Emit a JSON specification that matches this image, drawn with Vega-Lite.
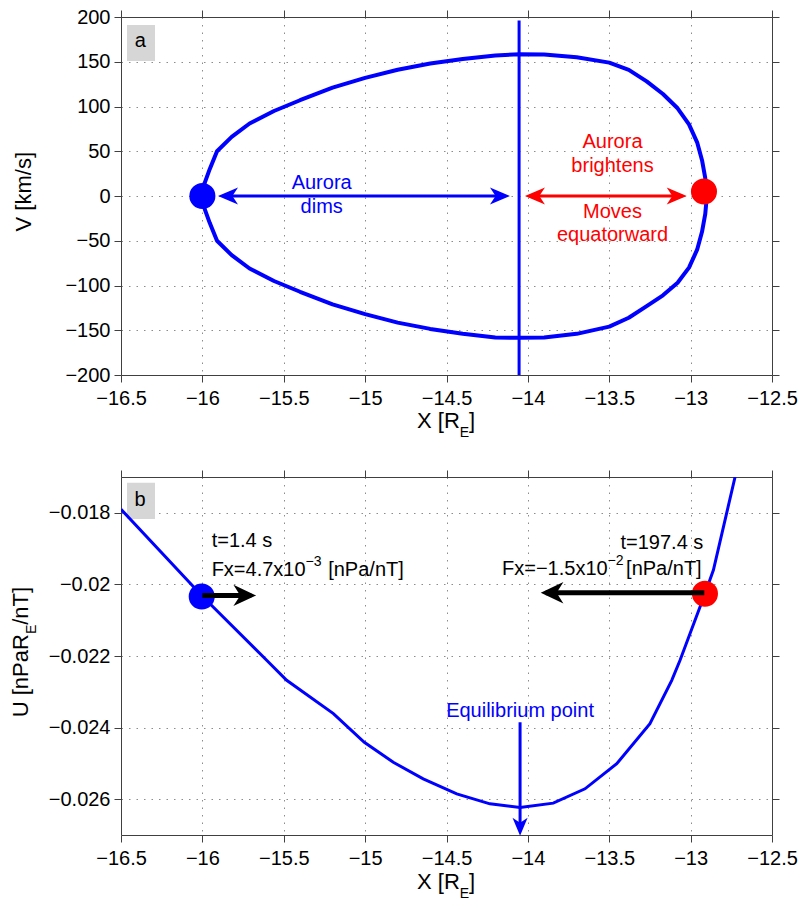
{
  "$schema": "https://vega.github.io/schema/vega-lite/v6.json",
  "padding": {"left": 10, "top": 7, "right": 5, "bottom": 5},
  "config": {
    "font": "Liberation Sans",
    "view": {"stroke": null},
    "axis": {
      "domainColor": "#404040", "tickColor": "#404040", "tickSize": 7, "tickWidth": 1, "domainWidth": 1,
      "labelFontSize": 20, "labelColor": "#000000", "labelFont": "Liberation Sans",
      "labelFlush": false, "labelOverlap": false,
      "gridColor": "#8c8c8c", "gridDash": [1.5, 6], "gridWidth": 1
    },
    "axisX": {"labelPadding": 6},
    "axisY": {"labelPadding": 4}
  },
  "spacing": 28,
  "datasets": {
    "loopA": [
      {"i": 1, "x": -16.0, "y": 0}, {"i": 2, "x": -15.985, "y": 15}, {"i": 3, "x": -15.955, "y": 30},
      {"i": 4, "x": -15.91, "y": 50}, {"i": 5, "x": -15.82, "y": 66}, {"i": 6, "x": -15.71, "y": 81},
      {"i": 7, "x": -15.56, "y": 95}, {"i": 8, "x": -15.4, "y": 107}, {"i": 9, "x": -15.2, "y": 121},
      {"i": 10, "x": -15.0, "y": 132}, {"i": 11, "x": -14.8, "y": 141}, {"i": 12, "x": -14.6, "y": 148},
      {"i": 13, "x": -14.4, "y": 153}, {"i": 14, "x": -14.2, "y": 157}, {"i": 15, "x": -14.05, "y": 158.5},
      {"i": 16, "x": -13.9, "y": 158}, {"i": 17, "x": -13.7, "y": 155}, {"i": 18, "x": -13.5, "y": 149},
      {"i": 19, "x": -13.38, "y": 141}, {"i": 20, "x": -13.27, "y": 128}, {"i": 21, "x": -13.17, "y": 114},
      {"i": 22, "x": -13.08, "y": 98}, {"i": 23, "x": -13.01, "y": 80}, {"i": 24, "x": -12.96, "y": 60},
      {"i": 25, "x": -12.93, "y": 40}, {"i": 26, "x": -12.91, "y": 20}, {"i": 27, "x": -12.9, "y": 0},
      {"i": 28, "x": -12.91, "y": -20}, {"i": 29, "x": -12.93, "y": -40}, {"i": 30, "x": -12.96, "y": -60},
      {"i": 31, "x": -13.01, "y": -80}, {"i": 32, "x": -13.08, "y": -97}, {"i": 33, "x": -13.17, "y": -111},
      {"i": 34, "x": -13.27, "y": -123}, {"i": 35, "x": -13.38, "y": -136}, {"i": 36, "x": -13.5, "y": -146},
      {"i": 37, "x": -13.7, "y": -154}, {"i": 38, "x": -13.9, "y": -158}, {"i": 39, "x": -14.05, "y": -158.5},
      {"i": 40, "x": -14.2, "y": -158}, {"i": 41, "x": -14.4, "y": -154}, {"i": 42, "x": -14.6, "y": -148.5},
      {"i": 43, "x": -14.8, "y": -141.5}, {"i": 44, "x": -15.0, "y": -132}, {"i": 45, "x": -15.2, "y": -121},
      {"i": 46, "x": -15.4, "y": -107}, {"i": 47, "x": -15.56, "y": -95}, {"i": 48, "x": -15.71, "y": -81},
      {"i": 49, "x": -15.82, "y": -66}, {"i": 50, "x": -15.91, "y": -50}, {"i": 51, "x": -15.955, "y": -30},
      {"i": 52, "x": -15.985, "y": -15}, {"i": 53, "x": -16.0, "y": 0}
    ],
    "vlineA": [{"x": -14.054, "y": -200, "y2": 196}],
    "boxA": [{"x": -16.463, "x2": -16.291, "y": 191, "y2": 150.8}],
    "letterA": [{"x": -16.381, "y": 166.8, "t": "a"}],
    "dotsA": [{"x": -16.0, "y": 0, "c": "blue"}, {"x": -12.918, "y": 5, "c": "red"}],
    "shaftsA": [{"x": -15.87, "x2": -14.14, "y": 0, "c": "blue"}, {"x": -13.99, "x2": -13.05, "y": 0, "c": "red"}],
    "headsA": [
      {"x": -15.904, "y": 0, "c": "blue", "dir": "left"}, {"x": -14.11, "y": 0, "c": "blue", "dir": "right"},
      {"x": -14.018, "y": 0, "c": "red", "dir": "left"}, {"x": -13.024, "y": 0, "c": "red", "dir": "right"}
    ],
    "txtA": [
      {"x": -15.267, "y": 7.5, "t": "Aurora", "c": "blue"}, {"x": -15.267, "y": -18.7, "t": "dims", "c": "blue"},
      {"x": -13.48, "y": 53.3, "t": "Aurora", "c": "red"}, {"x": -13.48, "y": 27.2, "t": "brightens", "c": "red"},
      {"x": -13.48, "y": -24.9, "t": "Moves", "c": "red"}, {"x": -13.48, "y": -49.9, "t": "equatorward", "c": "red"}
    ],
    "xtitleMainA": [{"x": -14.418, "y": -259.6, "t": "X [R"}],
    "xtitleSubA": [{"x": -14.418, "y": -259.6, "t": "E"}],
    "xtitleEndA": [{"x": -14.361, "y": -259.6, "t": "]"}],
    "ytitleA": [{"x": -17.05, "y": 4.8, "t": "V [km/s]"}],
    "curveB": [
      {"x": -16.5, "y": -0.0179}, {"x": -16.0, "y": -0.02033}, {"x": -15.605, "y": -0.02212},
      {"x": -15.482, "y": -0.02268}, {"x": -15.195, "y": -0.02361}, {"x": -15.005, "y": -0.02441},
      {"x": -14.827, "y": -0.02497}, {"x": -14.643, "y": -0.02543}, {"x": -14.437, "y": -0.02585},
      {"x": -14.233, "y": -0.02613}, {"x": -14.048, "y": -0.02623}, {"x": -13.844, "y": -0.02611},
      {"x": -13.649, "y": -0.02571}, {"x": -13.454, "y": -0.02501}, {"x": -13.25, "y": -0.02389},
      {"x": -13.116, "y": -0.02268}, {"x": -13.065, "y": -0.02212}, {"x": -12.912, "y": -0.02026},
      {"x": -12.86, "y": -0.0196}, {"x": -12.727, "y": -0.017}
    ],
    "boxB": [{"x": -16.463, "x2": -16.291, "y": -0.01716, "y2": -0.018175}],
    "letterB": [{"x": -16.383, "y": -0.017811, "t": "b"}],
    "dotsB": [{"x": -16.004, "y": -0.020336, "c": "blue"}, {"x": -12.912, "y": -0.020261, "c": "red"}],
    "shaftsB": [{"x": -16.0, "x2": -15.7, "y": -0.020308}, {"x": -13.89, "x2": -12.916, "y": -0.020233}],
    "headsB": [{"x": -15.67, "y": -0.020308, "dir": "right"}, {"x": -13.921, "y": -0.020233, "dir": "left"}],
    "eqShaftB": [{"x": -14.048, "y": -0.023851, "y2": -0.0268}],
    "eqHeadB": [{"x": -14.048, "y": -0.02702}],
    "eqTextB": [{"x": -14.048, "y": -0.023711, "t": "Equilibrium point"}],
    "txtLeftB": [
      {"x": -15.943, "y": -0.018957, "t": "t=1.4 s"}, {"x": -15.943, "y": -0.019777, "t": "Fx=4.7x10"},
      {"x": -15.227, "y": -0.019777, "t": "[nPa/nT]"}
    ],
    "txtRightB": [
      {"x": -12.922, "y": -0.019002, "t": "t=197.4 s"}, {"x": -13.51, "y": -0.019749, "t": "Fx=−1.5x10"},
      {"x": -12.932, "y": -0.019749, "t": "[nPa/nT]"}
    ],
    "supB": [{"x": -15.366, "y": -0.019777, "t": "−3"}, {"x": -13.51, "y": -0.019749, "t": "−2"}],
    "xtitleMainB": [{"x": -14.418, "y": -0.02851, "t": "X [R"}],
    "xtitleSubB": [{"x": -14.418, "y": -0.02851, "t": "E"}],
    "xtitleEndB": [{"x": -14.361, "y": -0.02851, "t": "]"}],
    "ytitleMainB": [{"x": -17.0696, "y": -0.023711, "t": "U [nPaR"}],
    "ytitleSubB": [{"x": -17.0696, "y": -0.021388, "t": "E"}],
    "ytitleEndB": [{"x": -17.0696, "y": -0.021128, "t": "/nT]"}]
  },
  "vconcat": [
    {
      "width": 651,
      "height": 358,
      "layer": [
        {
          "encoding": {
            "x": {"field": "x", "type": "quantitative",
              "scale": {"domain": [-16.5, -12.5], "nice": false, "zero": false},
              "axis": {"orient": "bottom", "title": null, "grid": true, "format": ".1~f",
                "values": [-16.5, -16, -15.5, -15, -14.5, -14, -13.5, -13, -12.5]}},
            "y": {"field": "y", "type": "quantitative",
              "scale": {"domain": [-200, 200], "nice": false, "zero": false},
              "axis": {"orient": "left", "title": null, "grid": true, "format": "d",
                "values": [-200, -150, -100, -50, 0, 50, 100, 150, 200]}}
          },
          "layer": [
            {"data": {"name": "boxA"}, "mark": {"type": "rect", "color": "#d6d6d6"},
              "encoding": {"x2": {"field": "x2"}, "y2": {"field": "y2"}}},
            {"data": {"name": "letterA"}, "mark": {"type": "text", "fontSize": 20, "align": "center", "baseline": "alphabetic", "color": "#000000"},
              "encoding": {"text": {"field": "t"}}},
            {"data": {"name": "loopA"}, "mark": {"type": "line", "color": "#0000ff", "strokeWidth": 4, "strokeJoin": "round"},
              "encoding": {"order": {"field": "i", "type": "quantitative"}}},
            {"data": {"name": "vlineA"}, "mark": {"type": "rule", "color": "#0000ff", "strokeWidth": 3},
              "encoding": {"y2": {"field": "y2"}}},
            {"data": {"name": "shaftsA"}, "mark": {"type": "rule", "strokeWidth": 3},
              "encoding": {"x2": {"field": "x2"},
                "color": {"field": "c", "type": "nominal", "scale": {"domain": ["blue", "red"], "range": ["#0000ff", "#ff0000"]}, "legend": null}}},
            {"data": {"name": "headsA"}, "transform": [{"filter": "datum.dir == 'left'"}],
              "mark": {"type": "point", "shape": "M0,0L-1,-0.42L-0.72,0L-1,0.42Z", "filled": true, "size": 1600, "opacity": 1, "strokeWidth": 0, "angle": 180},
              "encoding": {"color": {"field": "c", "type": "nominal", "scale": {"domain": ["blue", "red"], "range": ["#0000ff", "#ff0000"]}, "legend": null}}},
            {"data": {"name": "headsA"}, "transform": [{"filter": "datum.dir == 'right'"}],
              "mark": {"type": "point", "shape": "M0,0L-1,-0.42L-0.72,0L-1,0.42Z", "filled": true, "size": 1600, "opacity": 1, "strokeWidth": 0, "angle": 0},
              "encoding": {"color": {"field": "c", "type": "nominal", "scale": {"domain": ["blue", "red"], "range": ["#0000ff", "#ff0000"]}, "legend": null}}},
            {"data": {"name": "dotsA"}, "mark": {"type": "circle", "size": 680, "opacity": 1},
              "encoding": {"color": {"field": "c", "type": "nominal", "scale": {"domain": ["blue", "red"], "range": ["#0000ff", "#ff0000"]}, "legend": null}}},
            {"data": {"name": "txtA"}, "mark": {"type": "text", "fontSize": 20, "align": "center", "baseline": "alphabetic"},
              "encoding": {"text": {"field": "t"},
                "color": {"field": "c", "type": "nominal", "scale": {"domain": ["blue", "red"], "range": ["#0000ff", "#ff0000"]}, "legend": null}}},
            {"data": {"name": "xtitleMainA"}, "mark": {"type": "text", "fontSize": 22, "align": "right", "baseline": "alphabetic", "color": "#000000"},
              "encoding": {"text": {"field": "t"}}},
            {"data": {"name": "xtitleSubA"}, "mark": {"type": "text", "fontSize": 14, "align": "left", "baseline": "alphabetic", "dy": 9, "color": "#000000"},
              "encoding": {"text": {"field": "t"}}},
            {"data": {"name": "xtitleEndA"}, "mark": {"type": "text", "fontSize": 22, "align": "left", "baseline": "alphabetic", "color": "#000000"},
              "encoding": {"text": {"field": "t"}}},
            {"data": {"name": "ytitleA"}, "mark": {"type": "text", "fontSize": 22, "align": "center", "baseline": "alphabetic", "angle": 270, "color": "#000000"},
              "encoding": {"text": {"field": "t"}}}
          ]
        },
        {
          "data": {"name": "dotsA"},
          "mark": {"type": "point", "opacity": 0},
          "encoding": {
            "x": {"field": "x", "type": "quantitative",
              "scale": {"domain": [-16.5, -12.5], "nice": false, "zero": false},
              "axis": {"orient": "top", "title": null, "grid": false, "labels": false,
                "values": [-16.5, -16, -15.5, -15, -14.5, -14, -13.5, -13, -12.5]}},
            "y": {"field": "y", "type": "quantitative",
              "scale": {"domain": [-200, 200], "nice": false, "zero": false},
              "axis": {"orient": "right", "title": null, "grid": false, "labels": false,
                "values": [-200, -150, -100, -50, 0, 50, 100, 150, 200]}}
          }
        }
      ],
      "resolve": {"axis": {"x": "independent", "y": "independent"}}
    },
    {
      "width": 651,
      "height": 358,
      "layer": [
        {
          "encoding": {
            "x": {"field": "x", "type": "quantitative",
              "scale": {"domain": [-16.5, -12.5], "nice": false, "zero": false},
              "axis": {"orient": "bottom", "title": null, "grid": true, "format": ".1~f",
                "values": [-16.5, -16, -15.5, -15, -14.5, -14, -13.5, -13, -12.5]}},
            "y": {"field": "y", "type": "quantitative",
              "scale": {"domain": [-0.027, -0.017], "nice": false, "zero": false},
              "axis": {"orient": "left", "title": null, "grid": true, "format": ".3~f",
                "values": [-0.026, -0.024, -0.022, -0.02, -0.018]}}
          },
          "layer": [
            {"data": {"name": "boxB"}, "mark": {"type": "rect", "color": "#d6d6d6"},
              "encoding": {"x2": {"field": "x2"}, "y2": {"field": "y2"}}},
            {"data": {"name": "letterB"}, "mark": {"type": "text", "fontSize": 20, "align": "center", "baseline": "alphabetic", "color": "#000000"},
              "encoding": {"text": {"field": "t"}}},
            {"data": {"name": "curveB"}, "mark": {"type": "line", "color": "#0000ff", "strokeWidth": 3, "clip": true}},
            {"data": {"name": "eqShaftB"}, "mark": {"type": "rule", "color": "#0000ff", "strokeWidth": 3},
              "encoding": {"y2": {"field": "y2"}}},
            {"data": {"name": "eqHeadB"},
              "mark": {"type": "point", "shape": "M0,0L-1,-0.42L-0.72,0L-1,0.42Z", "filled": true, "size": 1296, "opacity": 1, "strokeWidth": 0, "angle": 90, "color": "#0000ff"}},
            {"data": {"name": "eqTextB"}, "mark": {"type": "text", "fontSize": 20, "align": "center", "baseline": "alphabetic", "color": "#0000ff"},
              "encoding": {"text": {"field": "t"}}},
            {"data": {"name": "dotsB"}, "mark": {"type": "circle", "size": 680, "opacity": 1},
              "encoding": {"color": {"field": "c", "type": "nominal", "scale": {"domain": ["blue", "red"], "range": ["#0000ff", "#ff0000"]}, "legend": null}}},
            {"data": {"name": "shaftsB"}, "mark": {"type": "rule", "strokeWidth": 5, "color": "#000000"},
              "encoding": {"x2": {"field": "x2"}}},
            {"data": {"name": "headsB"}, "transform": [{"filter": "datum.dir == 'right'"}],
              "mark": {"type": "point", "shape": "M0,0L-1,-0.47L-0.7,0L-1,0.47Z", "filled": true, "size": 2060, "opacity": 1, "strokeWidth": 0, "angle": 0, "color": "#000000"}},
            {"data": {"name": "headsB"}, "transform": [{"filter": "datum.dir == 'left'"}],
              "mark": {"type": "point", "shape": "M0,0L-1,-0.47L-0.7,0L-1,0.47Z", "filled": true, "size": 2060, "opacity": 1, "strokeWidth": 0, "angle": 180, "color": "#000000"}},
            {"data": {"name": "txtLeftB"}, "mark": {"type": "text", "fontSize": 20, "align": "left", "baseline": "alphabetic", "color": "#000000"},
              "encoding": {"text": {"field": "t"}}},
            {"data": {"name": "txtRightB"}, "mark": {"type": "text", "fontSize": 20, "align": "right", "baseline": "alphabetic", "color": "#000000"},
              "encoding": {"text": {"field": "t"}}},
            {"data": {"name": "supB"}, "mark": {"type": "text", "fontSize": 14, "align": "left", "baseline": "alphabetic", "dy": -10, "color": "#000000"},
              "encoding": {"text": {"field": "t"}}},
            {"data": {"name": "xtitleMainB"}, "mark": {"type": "text", "fontSize": 22, "align": "right", "baseline": "alphabetic", "color": "#000000"},
              "encoding": {"text": {"field": "t"}}},
            {"data": {"name": "xtitleSubB"}, "mark": {"type": "text", "fontSize": 14, "align": "left", "baseline": "alphabetic", "dy": 9, "color": "#000000"},
              "encoding": {"text": {"field": "t"}}},
            {"data": {"name": "xtitleEndB"}, "mark": {"type": "text", "fontSize": 22, "align": "left", "baseline": "alphabetic", "color": "#000000"},
              "encoding": {"text": {"field": "t"}}},
            {"data": {"name": "ytitleMainB"}, "mark": {"type": "text", "fontSize": 22, "align": "left", "baseline": "alphabetic", "angle": 270, "color": "#000000"},
              "encoding": {"text": {"field": "t"}}},
            {"data": {"name": "ytitleSubB"}, "mark": {"type": "text", "fontSize": 14, "align": "left", "baseline": "alphabetic", "angle": 270, "dy": 8, "color": "#000000"},
              "encoding": {"text": {"field": "t"}}},
            {"data": {"name": "ytitleEndB"}, "mark": {"type": "text", "fontSize": 22, "align": "left", "baseline": "alphabetic", "angle": 270, "color": "#000000"},
              "encoding": {"text": {"field": "t"}}}
          ]
        },
        {
          "data": {"name": "dotsB"},
          "mark": {"type": "point", "opacity": 0},
          "encoding": {
            "x": {"field": "x", "type": "quantitative",
              "scale": {"domain": [-16.5, -12.5], "nice": false, "zero": false},
              "axis": {"orient": "top", "title": null, "grid": false, "labels": false,
                "values": [-16.5, -16, -15.5, -15, -14.5, -14, -13.5, -13, -12.5]}},
            "y": {"field": "y", "type": "quantitative",
              "scale": {"domain": [-0.027, -0.017], "nice": false, "zero": false},
              "axis": {"orient": "right", "title": null, "grid": false, "labels": false,
                "values": [-0.026, -0.024, -0.022, -0.02, -0.018]}}
          }
        }
      ],
      "resolve": {"axis": {"x": "independent", "y": "independent"}}
    }
  ]
}
